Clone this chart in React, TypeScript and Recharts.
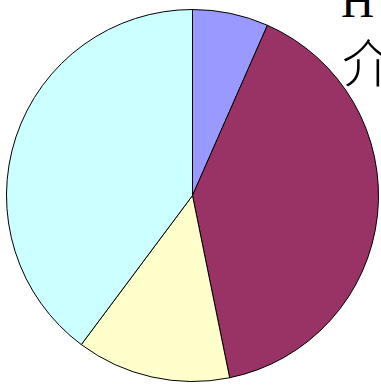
import { PieChart, Pie, Cell } from 'recharts';

// slice shares, clockwise from 12 o'clock
const names = ['A', 'B', 'C', 'D'];
const values = [6.6, 40.2, 13.4, 39.8];
const colors = ['#9999FF', '#993366', '#FFFFCC', '#CCFFFF'];

const data = names.map((name, i) => ({ name, value: values[i] }));

export default function App() {
  return (
    <div style={{ position: 'absolute', left: 0, top: 0, width: 381, height: 385, background: '#fff', overflow: 'hidden' }}>
      <PieChart width={381} height={385} margin={{ top: 0, right: 0, bottom: 0, left: 0 }}>
        <Pie
          data={data}
          dataKey="value"
          cx={192.5}
          cy={195.5}
          outerRadius={186}
          startAngle={90}
          endAngle={-270}
          stroke="#000"
          strokeWidth={1}
          isAnimationActive={false}
        >
          {data.map((d, i) => (
            <Cell key={d.name} fill={colors[i]} />
          ))}
        </Pie>
      </PieChart>
      <svg width={381} height={385} style={{ position: 'absolute', left: 0, top: 0, pointerEvents: 'none' }}>
        <text x={341} y={17} fontFamily="'Liberation Serif', serif" fontSize={46} fill="#000">H</text>
        <text x={342} y={83} fontFamily="'Noto Sans CJK SC', sans-serif" fontWeight={300} fontSize={52} fill="#000">介</text>
      </svg>
    </div>
  );
}
